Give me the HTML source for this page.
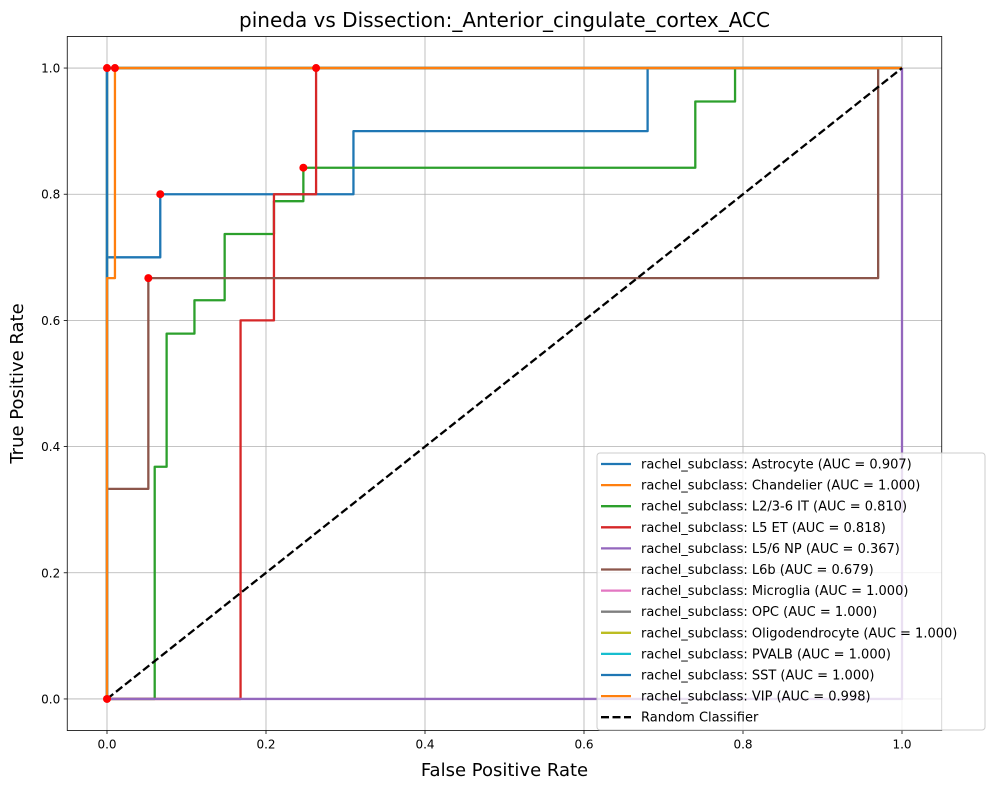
<!DOCTYPE html>
<html><head><meta charset="utf-8"><style>
body{margin:0;background:#fff;}
svg text{font-family:"DejaVu Sans","Liberation Sans",sans-serif;}
</style></head><body>
<svg id="chart" width="994" height="790" xmlns="http://www.w3.org/2000/svg"></svg>
<script>
const seriesNames=["rachel_subclass: Astrocyte (AUC = 0.907)","rachel_subclass: Chandelier (AUC = 1.000)","rachel_subclass: L2/3-6 IT (AUC = 0.810)","rachel_subclass: L5 ET (AUC = 0.818)","rachel_subclass: L5/6 NP (AUC = 0.367)","rachel_subclass: L6b (AUC = 0.679)","rachel_subclass: Microglia (AUC = 1.000)","rachel_subclass: OPC (AUC = 1.000)","rachel_subclass: Oligodendrocyte (AUC = 1.000)","rachel_subclass: PVALB (AUC = 1.000)","rachel_subclass: SST (AUC = 1.000)","rachel_subclass: VIP (AUC = 0.998)"];
const colors=["#1f77b4","#ff7f0e","#2ca02c","#d62728","#9467bd","#8c564b","#e377c2","#7f7f7f","#bcbd22","#17becf","#1f77b4","#ff7f0e"];
const fprs=[
[0,0,0.067,0.067,0.31,0.31,0.68,0.68,1],
[0,0,1],
[0,0.06,0.06,0.075,0.075,0.11,0.11,0.148,0.148,0.21,0.21,0.247,0.247,0.74,0.74,0.79,0.79,1],
[0,0.168,0.168,0.21,0.21,0.263,0.263,1],
[0,1,1],
[0,0,0.052,0.052,0.97,0.97,1],
[0,0,1],[0,0,1],[0,0,1],[0,0,1],[0,0,1],
[0,0,0.01,0.01,1]];
const tprs=[
[0,0.7,0.7,0.8,0.8,0.9,0.9,1,1],
[0,1,1],
[0,0,0.368,0.368,0.579,0.579,0.632,0.632,0.737,0.737,0.789,0.789,0.842,0.842,0.947,0.947,1,1],
[0,0,0.6,0.6,0.8,0.8,1,1],
[0,0,1],
[0,0.333,0.333,0.667,0.667,1,1],
[0,1,1],[0,1,1],[0,1,1],[0,1,1],[0,1,1],
[0,0.667,0.667,1,1]];
const dotX=[0,0.01,0.067,0.052,0.247,0.263,0];
const dotY=[1,1,0.8,0.667,0.842,1,0];
const ticks=[0,0.2,0.4,0.6,0.8,1.0];
const tickLabels=["0.0","0.2","0.4","0.6","0.8","1.0"];

const svg=document.getElementById('chart');
const NS="http://www.w3.org/2000/svg";
const L=67.25,R=941.75,T=36.5,B=730.5;
const X=v=>L+(v+0.05)/1.1*(R-L);
const Y=v=>B-(v+0.05)/1.1*(B-T);
function mk(tag,attrs,parent){const e=document.createElementNS(NS,tag);for(const k in attrs)e.setAttribute(k,attrs[k]);(parent||svg).appendChild(e);return e;}

const grid=mk('g',{});


ticks.forEach((t,i)=>{
  mk('line',{x1:X(t),x2:X(t),y1:T,y2:B,stroke:'#b0b0b0','stroke-width':0.8},grid);
  mk('line',{x1:L,x2:R,y1:Y(t),y2:Y(t),stroke:'#b0b0b0','stroke-width':0.8},grid);
  mk('line',{x1:X(t),x2:X(t),y1:B,y2:B+3.5,stroke:'#000','stroke-width':0.8});
  mk('line',{x1:L-3.5,x2:L,y1:Y(t),y2:Y(t),stroke:'#000','stroke-width':0.8});
  const xt=mk('text',{x:X(t),y:B+18,'text-anchor':'middle','font-size':12});
  xt.textContent=tickLabels[i];
  
  
  const yt=mk('text',{x:L-7,y:Y(t)+4.5,'text-anchor':'end','font-size':12});
  yt.textContent=tickLabels[i];
  
  
});
fprs.forEach((f,i)=>{
  const pts=f.map((v,j)=>X(v)+','+Y(tprs[i][j])).join(' ');
  const p=mk('polyline',{points:pts,fill:'none',stroke:colors[i],'stroke-width':2.3,'stroke-linejoin':'round'});
  
  
});
const rnd=mk('line',{x1:X(0),y1:Y(0),x2:X(1),y2:Y(1),stroke:'#000','stroke-width':2.3,'stroke-dasharray':'8,3.5'});


dotX.forEach((v,i)=>{
  const c=mk('circle',{cx:X(v),cy:Y(dotY[i]),r:4,fill:'red'});
  
  
});
mk('rect',{x:L,y:T,width:R-L,height:B-T,fill:'none',stroke:'#000','stroke-width':0.8});
const title=mk('text',{x:(L+R)/2,y:27,'text-anchor':'middle','font-size':20});
title.textContent='pineda vs Dissection:_Anterior_cingulate_cortex_ACC';


const xl=mk('text',{x:(L+R)/2,y:776,'text-anchor':'middle','font-size':18});
xl.textContent='False Positive Rate';


const yl=mk('text',{x:23,y:(T+B)/2,'text-anchor':'middle','font-size':18,transform:'rotate(-90 23 '+((T+B)/2)+')'});
yl.textContent='True Positive Rate';


const lg=mk('g',{});


mk('rect',{x:597,y:453,width:388,height:277,rx:3,fill:'#fff','fill-opacity':0.8,stroke:'#ccc'},lg);
const labels=seriesNames.concat(['Random Classifier']);
labels.forEach((s,i)=>{
  const y=464+i*21.1;
  const ln=mk('line',{x1:601,x2:631,y1:y,y2:y,stroke:i<12?colors[i]:'#000','stroke-width':2.3,'stroke-dasharray':i<12?'none':'8,3.5'},lg);
  
  
  const t=mk('text',{x:641,y:y+4.5,'font-size':13},lg);
  t.textContent=s;
  
  
});
</script>
</body></html>
